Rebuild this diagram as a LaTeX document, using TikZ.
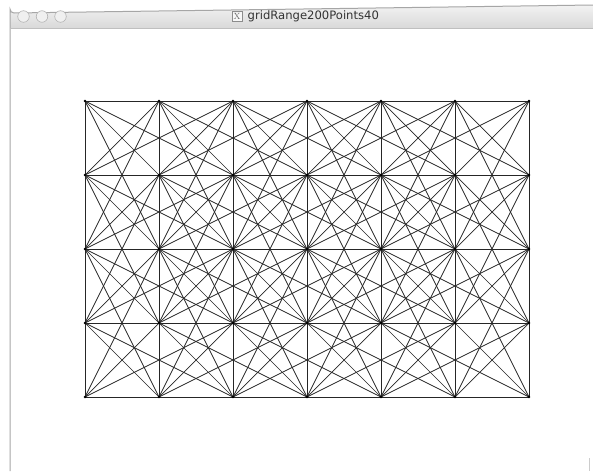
\documentclass[tikz,border=0pt]{standalone}
\usepackage{fontspec}
\newfontfamily\titlefont{DejaVu Sans}
\begin{document}
\begin{tikzpicture}[x=1pt,y=-1pt,
  gridline/.style={line width=0.7pt,black!85},
  winborder/.style={draw=black!35,line width=1pt},
  light/.style={draw=black!30,fill=black!6,line width=0.6pt},
  titletext/.style={font=\titlefont\fontsize{11.6}{13}\selectfont,text=black!80,inner sep=0pt,anchor=west}]
\useasboundingbox (0,0) rectangle (593,471);
\fill[white] (0,0) rectangle (593,471);
% window frame and title bar
\shade[top color=black!5,bottom color=black!15] (10,28) -- (10,9) arc[start angle=180,end angle=90,radius=4] -- (593,5) -- (593,28) -- cycle;
\draw[winborder] (10,471) -- (10,9) arc[start angle=180,end angle=90,radius=4] -- (593,5);
\draw[black!25,line width=0.6pt] (10,28.5) -- (593,28.5);
\node[light,circle,minimum size=11.5pt,inner sep=0pt] (b1) at (23.5,16.5) {};
\node[light,circle,minimum size=11.5pt,inner sep=0pt] (b2) at (42,16.5) {};
\node[light,circle,minimum size=11.5pt,inner sep=0pt] (b3) at (60.5,16.5) {};
\node[draw=black!45,fill=black!3,line width=0.5pt,minimum width=10pt,minimum height=10pt,inner sep=0pt,font=\fontsize{9}{9}\selectfont,text=black!60] (xicon) at (237,16.5) {X};
\node[titletext] (title) at (247.5,16.5) {gridRange200Points40};
\draw[black!20,line width=0.6pt] (589,458) -- (589,471);
% grid points
\foreach \i in {0,...,6}{
  \foreach \j in {0,...,4}{
    \coordinate (p-\i-\j) at (85+74*\i,101+74*\j);
  }
}
% connectors
\foreach \i in {0,...,6}{
  \foreach \j in {0,...,4}{
    \foreach \dx/\dy in {1/0,0/1,1/1,1/-1,2/1,2/-1,1/2,1/-2}{
      \pgfmathtruncatemacro\ni{\i+\dx}
      \pgfmathtruncatemacro\nj{\j+\dy}
      \ifnum\ni<7 \ifnum\nj>-1 \ifnum\nj<5
        \draw[gridline] (p-\i-\j) -- (p-\ni-\nj);
      \fi\fi\fi
    }
    \fill[black] (p-\i-\j) circle[radius=1.3];
  }
}
\end{tikzpicture}
\end{document}
